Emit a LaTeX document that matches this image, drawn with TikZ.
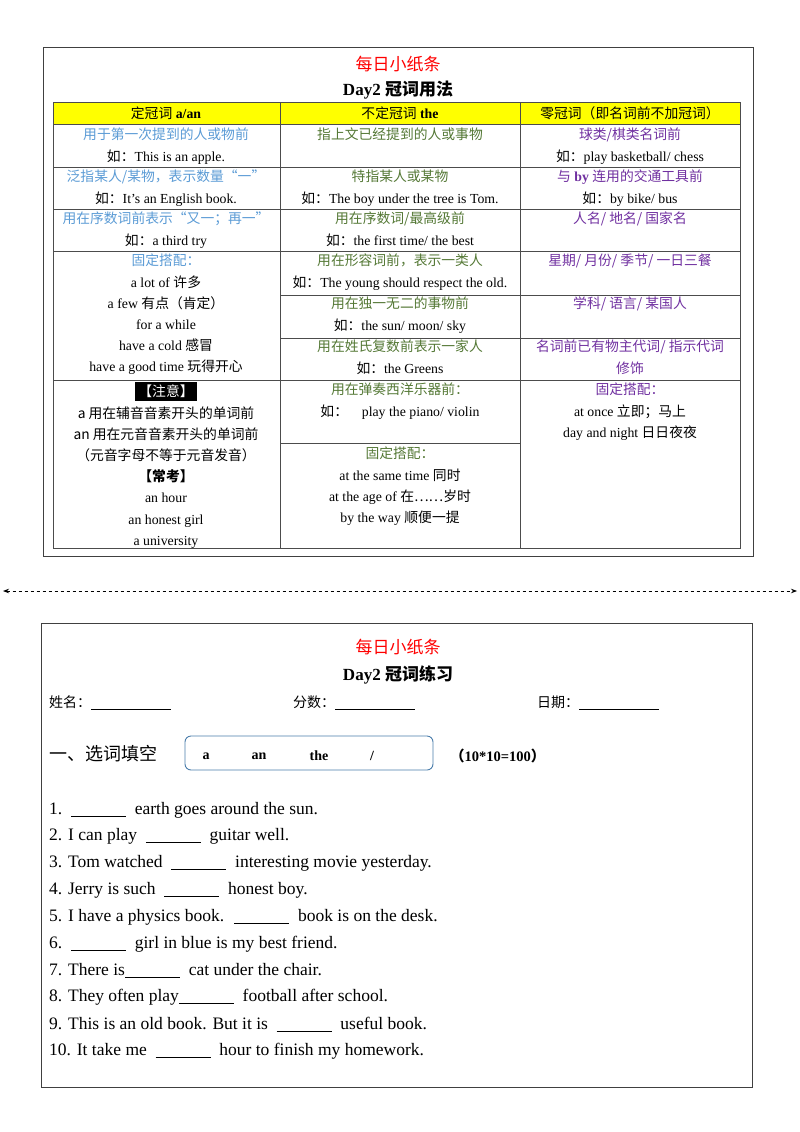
\documentclass[tikz,border=0pt]{standalone}
\usepackage{fontspec}
\setmainfont{Liberation Serif}
\newfontfamily\cjk{Noto Sans CJK SC}
\newcommand{\C}[1]{{\cjk #1}}
\usetikzlibrary{arrows.meta}
\definecolor{cb}{RGB}{91,155,213}
\definecolor{cg}{RGB}{84,120,53}
\definecolor{cp}{RGB}{112,48,160}
\definecolor{hy}{RGB}{255,255,0}
\begin{document}
\begin{tikzpicture}[x=1pt,y=-1pt,
 t/.style={inner sep=0,align=center,font=\fontsize{13.8}{21.2}\selectfont},
 tl/.style={inner sep=0,anchor=west,font=\fontsize{15}{18}\selectfont},
 ln/.style={draw=black!70,line width=0.8pt}]
\useasboundingbox (0,0) rectangle (800,1132);
% top box
\draw[line width=0.9pt,draw=black!75] (43,47) rectangle (753,556);
\node[t,text=red,font=\fontsize{17}{20}\selectfont] (tt1) at (398,64) {\C{每日小纸条}};
\node[t,font=\fontsize{17}{20}\selectfont\bfseries] (tt2) at (398,90) {Day2 \C{冠词用法}};
\fill[hy] (53,102) rectangle (740,124);
\draw[ln] (53,102) rectangle (740,548);
\foreach \y in {124,167,209,251,380} \draw[ln] (53,\y) -- (740,\y);
\draw[ln] (280,295) -- (740,295);
\draw[ln] (280,338) -- (740,338);
\draw[ln] (280,443) -- (520,443);
\draw[ln] (280,102) -- (280,548);
\draw[ln] (520,102) -- (520,548);
% header
\node[t] (h1) at (166,113) {\C{定冠词} \textbf{a/an}};
\node[t] (h2) at (400,113) {\C{不定冠词} \textbf{the}};
\node[t] (h3) at (630,113) {\C{零冠词（即名词前不加冠词）}};
% row1
\node[t,anchor=north] (a1) at (166,128) {\textcolor{cb}{\C{用于第一次提到的人或物前}}\\\C{如：}This is an apple.};
\node[t,anchor=north] (b1) at (400,128) {\textcolor{cg}{\C{指上文已经提到的人或事物}}};
\node[t,anchor=north] (c1) at (630,128) {\textcolor{cp}{\C{球类/棋类名词前}}\\\C{如：}play basketball/ chess};
% row2
\node[t,anchor=north] (a2) at (166,170) {\textcolor{cb}{\C{泛指某人/某物，表示数量“一”}}\\\C{如：}It's an English book.};
\node[t,anchor=north] (b2) at (400,170) {\textcolor{cg}{\C{特指某人或某物}}\\\C{如：}The boy under the tree is Tom.};
\node[t,anchor=north] (c2) at (630,170) {\textcolor{cp}{\C{与} \textbf{by} \C{连用的交通工具前}}\\\C{如：}by bike/ bus};
% row3
\node[t,anchor=north] (a3) at (166,212) {\textcolor{cb}{\C{用在序数词前表示“又一；再一”}}\\\C{如：}a third try};
\node[t,anchor=north] (b3) at (400,212) {\textcolor{cg}{\C{用在序数词/最高级前}}\\\C{如：}the first time/ the best};
\node[t,anchor=north] (c3) at (630,212) {\textcolor{cp}{\C{人名/ 地名/ 国家名}}};
% row4
\node[t,anchor=north] (a4) at (166,254) {\textcolor{cb}{\C{固定搭配：}}\\a lot of \C{许多}\\a few \C{有点（肯定）}\\for a while\\have a cold \C{感冒}\\have a good time \C{玩得开心}};
\node[t,anchor=north] (b4) at (400,254) {\textcolor{cg}{\C{用在形容词前，表示一类人}}\\\C{如：}The young should respect the old.};
\node[t,anchor=north] (b5) at (400,297) {\textcolor{cg}{\C{用在独一无二的事物前}}\\\C{如：}the sun/ moon/ sky};
\node[t,anchor=north] (b6) at (400,340) {\textcolor{cg}{\C{用在姓氏复数前表示一家人}}\\\C{如：}the Greens};
\node[t,anchor=north] (c4) at (630,254) {\textcolor{cp}{\C{星期/ 月份/ 季节/ 一日三餐}}};
\node[t,anchor=north] (c5) at (630,297) {\textcolor{cp}{\C{学科/ 语言/ 某国人}}};
\node[t,anchor=north,text=cp] (c6) at (630,340) {\C{名词前已有物主代词/ 指示代词}\\\C{修饰}};
% row5
\node[t,anchor=north] (a5) at (166,382) {\colorbox{black}{\textcolor{white}{\C{【注意】}}}\\\C{a 用在辅音音素开头的单词前}\\\C{an 用在元音音素开头的单词前}\\\C{（元音字母不等于元音发音）}\\{\cjk\bfseries【常考】}\\an hour\\an honest girl\\a university};
\node[t,anchor=north] (b7) at (400,383) {\textcolor{cg}{\C{用在弹奏西洋乐器前：}}\\\C{如：}\quad play the piano/ violin};
\node[t,anchor=north] (b8) at (400,447) {\textcolor{cg}{\C{固定搭配：}}\\at the same time \C{同时}\\at the age of \C{在……岁时}\\by the way \C{顺便一提}};
\node[t,anchor=north] (c7) at (630,383) {\textcolor{cp}{\C{固定搭配：}}\\at once \C{立即；马上}\\day and night \C{日日夜夜}};
% dashed arrow
\coordinate (dl) at (3,591);
\coordinate (dr) at (797,591);
\draw[dashed,line width=0.8pt,{Stealth[length=6pt]}-{Stealth[length=6pt]}] (dl) -- (dr);
% bottom box
\draw[line width=0.9pt,draw=black!75] (41,623) rectangle (752,1087);
\node[t,text=red,font=\fontsize{17}{20}\selectfont] (bt1) at (398,647) {\C{每日小纸条}};
\node[t,font=\fontsize{17}{20}\selectfont\bfseries] (bt2) at (398,675) {Day2 \C{冠词练习}};
\node[tl,font=\fontsize{14}{16}\selectfont] (f1) at (49,703) {\C{姓名：}\rule[-2pt]{80pt}{0.6pt}};
\node[tl,font=\fontsize{14}{16}\selectfont] (f2) at (293,703) {\C{分数：}\rule[-2pt]{80pt}{0.6pt}};
\node[tl,font=\fontsize{14}{16}\selectfont] (f3) at (537,703) {\C{日期：}\rule[-2pt]{80pt}{0.6pt}};
\node[tl,font=\fontsize{18}{20}\selectfont] (sec) at (49,754) {\C{一、选词填空}};
\node[draw=cb!80!black,line width=0.9pt,rounded corners=6pt,minimum width=248pt,minimum height=34pt] (wb) at (309,753) {};
\node[t,font=\fontsize{14}{15}\selectfont\bfseries] (w1) at (206,756) {a};
\node[t,font=\fontsize{14}{15}\selectfont\bfseries] (w2) at (259,756) {an};
\node[t,font=\fontsize{14}{15}\selectfont\bfseries] (w3) at (319,756) {the};
\node[t,font=\fontsize{14}{15}\selectfont\bfseries] (w4) at (372,756) {/};
\node[tl,font=\fontsize{14.5}{15}\selectfont\bfseries] (sc) at (450,756) {\C{（}10*10=100\C{）}};
\def\bl{\rule[-2pt]{55pt}{0.6pt}}
\foreach \i/\s in {0/{1.\ \ \bl\ \ earth goes around the sun.},
 1/{2. I can play \ \bl\ \ guitar well.},
 2/{3. Tom watched \ \bl\ \ interesting movie yesterday.},
 3/{4. Jerry is such \ \bl\ \ honest boy.},
 4/{5. I have a physics book. \ \bl\ \ book is on the desk.},
 5/{6.\ \ \bl\ \ girl in blue is my best friend.},
 6/{7. There is\bl\ \ cat under the chair.},
 7/{8. They often play\bl\ \ football after school.},
 8/{9. This is an old book. But it is \ \bl\ \ useful book.},
 9/{10. It take me \ \bl\ \ hour to finish my homework.}}
 \node[tl,font=\fontsize{17.5}{20}\selectfont] (q\i) at (49,{810+26.8*\i}) {\s};
\end{tikzpicture}
\end{document}
